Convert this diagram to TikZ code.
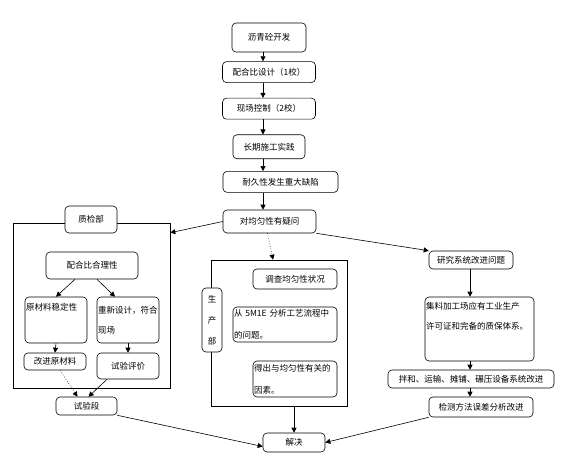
\documentclass[tikz,border=0pt]{standalone}
\usepackage{fontspec}
\setmainfont{Noto Sans CJK SC}
\usetikzlibrary{positioning,arrows.meta}
\tikzset{flow box/.style={draw, rounded corners=4pt, line width=0.6pt, inner sep=1pt, font=\fontsize{8.5}{11}\selectfont, align=center},
  dept frame/.style={draw, line width=0.6pt, inner sep=0pt},
  flow/.style={-{Triangle[length=5pt,width=5pt]}, line width=0.6pt},}
\begin{document}
\begin{tikzpicture}[x=1pt,y=-1pt]
   \useasboundingbox (0,0) rectangle (564,457);
   % main chain
   \node[flow box, minimum width=74pt, minimum height=29pt] (dev) at (269,37.5) {沥青砼开发};
   \node[flow box, minimum width=93pt, minimum height=21pt] (mix) [below=9pt of dev] {配合比设计（1校）};
   \node[flow box, minimum width=93pt, minimum height=21pt] (site) [below=15pt of mix] {现场控制（2校）};
   \node[flow box, minimum width=72pt, minimum height=24pt] (prac) [below=15pt of site] {长期施工实践};
   \node[flow box, minimum width=115pt, minimum height=21pt] (flaw) [below=12pt of prac, xshift=11.5pt] {耐久性发生重大缺陷};
   \node[flow box, minimum width=93pt, minimum height=23pt] (doubt) [below=17pt of flaw, xshift=-11pt] {对均匀性有疑问};
   \coordinate (spine) at (263,0);

   % quality department
   \node[dept frame, minimum width=157pt, minimum height=165pt] (qframe) at (91.5,305.5) {};
   \node[flow box, fill=white, minimum width=52pt, minimum height=27pt] (qlabel) at (91,219.5) {质检部};
   \node[flow box, minimum width=92pt, minimum height=27pt] (ratio) at (92,265.5) {配合比合理性};
   \node[flow box, minimum width=62pt, minimum height=46pt, text width=60pt, align=left, font=\fontsize{8.5}{20}\selectfont] (stab) at (56,320) {原材料稳定性\\\strut};
   \node[flow box, minimum width=62pt, minimum height=46pt, text width=60pt, align=left, font=\fontsize{8.5}{20}\selectfont] (redes) at (128,320) {重新设计，符合\\现场};
   \node[flow box, minimum width=62pt, minimum height=17pt] (impr) at (55,361.5) {改进原材料};
   \node[flow box, minimum width=62pt, minimum height=26pt] (eval) at (128,366) {试验评价};
   \node[flow box, minimum width=61pt, minimum height=18pt] (trial) at (86.5,406) {试验段};

   % production department
   \node[dept frame, minimum width=136pt, minimum height=146pt] (pframe) at (279,333) {};
   \node[flow box, fill=white, minimum width=20pt, minimum height=64pt, font=\fontsize{8.5}{21}\selectfont] (plabel) at (212,320) {生\\产\\部};
   \node[flow box, minimum width=84pt, minimum height=20pt] (surv) at (295,279) {调查均匀性状况};
   \node[flow box, minimum width=104pt, minimum height=35pt, text width=102pt, align=left, font=\fontsize{8.5}{22}\selectfont] (mme) at (285,324.5) {从 5M1E 分析工艺流程中\\的问题。};
   \node[flow box, minimum width=84pt, minimum height=36pt, text width=82pt, align=left, font=\fontsize{8.5}{22}\selectfont] (fact) at (295,379) {得出与均匀性有关的\\因素。};
   \node[flow box, minimum width=62pt, minimum height=19pt] (solve) at (294,442.5) {解决};

   % system improvement
   \node[flow box, minimum width=84pt, minimum height=18pt] (rsys) at (471,260) {研究系统改进问题};
   \node[flow box, minimum width=109pt, minimum height=64pt, text width=107pt, align=left, font=\fontsize{8.5}{20}\selectfont] (aggr) at (479.5,329) {集料加工场应有工业生产\\许可证和完备的质保体系。\\\strut};
   \node[flow box, minimum width=166pt, minimum height=18pt] (equip) at (471,379) {拌和、运输、摊铺、碾压设备系统改进};
   \node[flow box, minimum width=104pt, minimum height=20pt] (test) at (481,407) {检测方法误差分析改进};
   \coordinate (rspine) at (470,0);

   \draw[flow] (dev.south -| spine) -- (mix.north -| spine);
   \draw[flow] (mix.south -| spine) -- (site.north -| spine);
   \draw[flow] (site.south -| spine) -- (prac.north -| spine);
   \draw[flow] (prac.south -| spine) -- (flaw.north -| spine);
   \draw[flow] (flaw.south -| spine) -- (doubt.north -| spine);

   \draw[flow] (doubt.west) -- ([yshift=-10pt]qframe.north east);
   \draw[flow, dotted] ([xshift=-2pt]doubt.south) -- ([xshift=-6pt]pframe.north);
   \draw[flow] (doubt.south east) -- (rsys.north west);

   \draw[flow] ([xshift=-17pt]ratio.south) -- (stab.north);
   \draw[flow] ([xshift=5pt]ratio.south) -- ([xshift=-13pt]redes.north);
   \draw[flow] (stab.south) -- (impr.north);
   \draw[flow] (redes.south) -- (eval.north);
   \draw[flow, dotted] ([xshift=5pt]impr.south) -- ([xshift=-9pt]trial.north);
   \draw[flow] ([xshift=-21pt]eval.south) -- ([xshift=2pt]trial.north);
   \draw[flow] (trial.south east) -- ([yshift=-4pt]solve.west);

   \draw[flow] (pframe.south -| solve) -- (solve.north);

   \draw[flow] (rsys.south -| rspine) -- (aggr.north -| rspine);
   \draw[flow] (aggr.south -| rspine) -- (equip.north -| rspine);
   \draw[flow] (equip.south -| rspine) -- (test.north -| rspine);
   \draw[flow] (test.south west) -- (solve.east);
\end{tikzpicture}
\end{document}
